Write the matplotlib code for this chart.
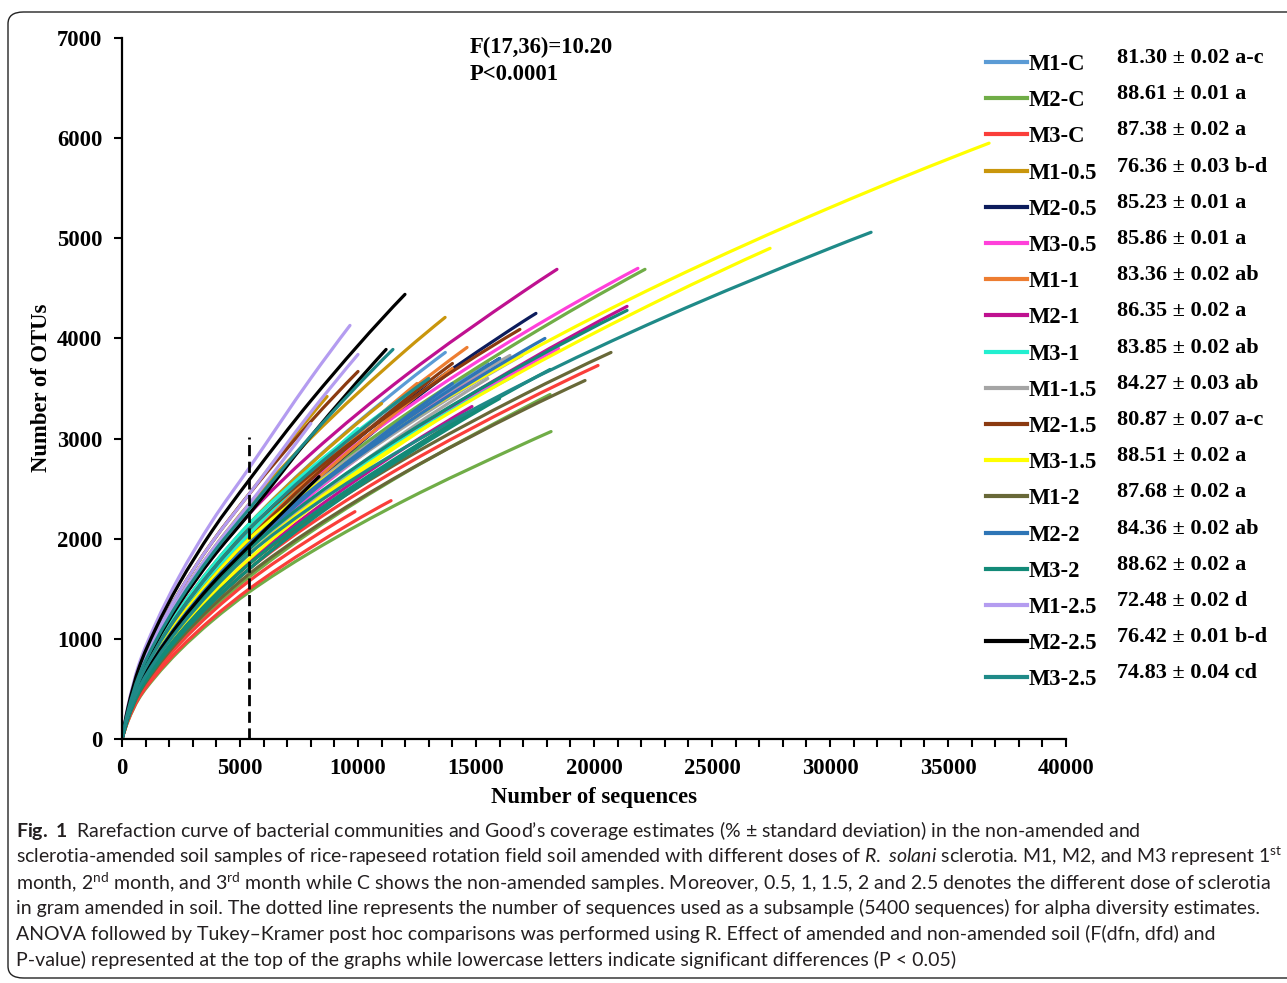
import matplotlib
matplotlib.use('Agg')
import matplotlib.pyplot as plt
from matplotlib.lines import Line2D
from matplotlib.patches import FancyBboxPatch, PathPatch
from matplotlib.path import Path
from matplotlib.ticker import MultipleLocator

W, H = 1287, 983

# ---------------- data ----------------
groups = ['M1-C', 'M2-C', 'M3-C', 'M1-0.5', 'M2-0.5', 'M3-0.5', 'M1-1', 'M2-1', 'M3-1',
          'M1-1.5', 'M2-1.5', 'M3-1.5', 'M1-2', 'M2-2', 'M3-2', 'M1-2.5', 'M2-2.5', 'M3-2.5']
coverage = ['81.30 ± 0.02 a-c', '88.61 ± 0.01 a', '87.38 ± 0.02 a', '76.36 ± 0.03 b-d',
            '85.23 ± 0.01 a', '85.86 ± 0.01 a', '83.36 ± 0.02 ab', '86.35 ± 0.02 a',
            '83.85 ± 0.02 ab', '84.27 ± 0.03 ab', '80.87 ± 0.07 a-c', '88.51 ± 0.02 a',
            '87.68 ± 0.02 a', '84.36 ± 0.02 ab', '88.62 ± 0.02 a', '72.48 ± 0.02 d',
            '76.42 ± 0.01 b-d', '74.83 ± 0.04 cd']
colors = ['#5B9BD5', '#70AD47', '#FA3E3A', '#C9960C', '#0C1C5C', '#FF40DA', '#ED7D31',
          '#BF1190', '#22EFD0', '#A5A5A5', '#8B3A10', '#FFFF00', '#686838', '#2E75B6',
          '#138A78', '#B49CF0', '#000000', '#1F8A88']

f_text = 'F(17,36)=10.20'
p_text = 'P<0.0001'
subsample_depth = 5400
subsample_line_top = 3020

# sequences at which the low part of each curve is read
LOW_X = [0, 250, 700, 1400, 2400, 3800, 5400]

curve_group = [0, 0, 0, 1, 1, 1, 2, 2, 2, 3, 3, 3, 4, 4, 4, 5, 5, 5, 6, 6, 6, 7, 7, 7, 8, 8, 8,
               9, 9, 9, 10, 10, 10, 11, 11, 11, 12, 12, 12, 13, 13, 13, 14, 14, 14, 15, 15, 15,
               16, 16, 16, 17, 17, 17]

curve_low_y = [
    [0, 258, 581, 903, 1279, 1720, 2150],
    [0, 240, 540, 840, 1190, 1600, 2000],
    [0, 234, 527, 819, 1160, 1560, 1950],
    [0, 240, 540, 840, 1190, 1600, 2000],
    [0, 176, 397, 617, 875, 1176, 1470],
    [0, 194, 437, 680, 964, 1296, 1620],
    [0, 190, 427, 664, 940, 1264, 1580],
    [0, 180, 405, 630, 893, 1200, 1500],
    [0, 204, 459, 714, 1012, 1360, 1700],
    [0, 282, 635, 987, 1398, 1880, 2350],
    [0, 294, 662, 1029, 1458, 1960, 2450],
    [0, 258, 581, 903, 1279, 1720, 2150],
    [0, 246, 554, 861, 1220, 1640, 2050],
    [0, 234, 527, 819, 1160, 1560, 1950],
    [0, 228, 513, 798, 1131, 1520, 1900],
    [0, 246, 554, 861, 1220, 1640, 2050],
    [0, 228, 513, 798, 1131, 1520, 1900],
    [0, 222, 500, 777, 1101, 1480, 1850],
    [0, 246, 554, 861, 1220, 1640, 2050],
    [0, 240, 540, 840, 1190, 1600, 2000],
    [0, 234, 527, 819, 1160, 1560, 1950],
    [0, 270, 608, 945, 1339, 1800, 2250],
    [0, 222, 500, 777, 1101, 1480, 1850],
    [0, 212, 478, 743, 1053, 1416, 1770],
    [0, 258, 581, 903, 1279, 1720, 2150],
    [0, 228, 513, 798, 1131, 1520, 1900],
    [0, 246, 554, 861, 1220, 1640, 2050],
    [0, 234, 527, 819, 1160, 1560, 1950],
    [0, 240, 540, 840, 1190, 1600, 2000],
    [0, 222, 500, 777, 1101, 1480, 1850],
    [0, 252, 567, 882, 1250, 1680, 2100],
    [0, 294, 662, 1029, 1458, 1960, 2450],
    [0, 240, 540, 840, 1190, 1600, 2000],
    [0, 240, 540, 840, 1190, 1600, 2000],
    [0, 222, 500, 777, 1101, 1480, 1850],
    [0, 216, 486, 756, 1071, 1440, 1800],
    [0, 210, 473, 735, 1041, 1400, 1750],
    [0, 198, 446, 693, 982, 1320, 1650],
    [0, 204, 459, 714, 1012, 1360, 1700],
    [0, 234, 527, 819, 1160, 1560, 1950],
    [0, 234, 527, 819, 1160, 1560, 1950],
    [0, 228, 513, 798, 1131, 1520, 1900],
    [0, 228, 513, 798, 1131, 1520, 1900],
    [0, 210, 473, 735, 1041, 1400, 1750],
    [0, 204, 459, 714, 1012, 1360, 1700],
    [0, 325, 732, 1138, 1612, 2168, 2710],
    [0, 294, 662, 1029, 1458, 1960, 2450],
    [0, 282, 635, 987, 1398, 1880, 2350],
    [0, 311, 699, 1088, 1541, 2072, 2590],
    [0, 270, 608, 945, 1339, 1800, 2250],
    [0, 232, 521, 811, 1148, 1544, 1930],
    [0, 222, 500, 777, 1101, 1480, 1850],
    [0, 276, 621, 966, 1369, 1840, 2300],
    [0, 252, 567, 882, 1250, 1680, 2100],
]

curve_high_x = [
    [8000, 12000, 13700], [8000, 12000, 15500], [8000, 12000],
    [8000, 12000, 17000, 22160], [8000, 12000, 17000, 18180], [8000, 12000, 17000, 18140],
    [8000, 9870], [8000, 11400], [8000, 12000, 17000, 20170],
    [8000, 12000, 13690], [7000, 8690], [8000, 11000],
    [8000, 12000, 17000, 17540], [8000, 12000, 14400], [8000, 12000, 16000],
    [8000, 12000, 17000, 21860], [8000, 12000, 15500], [8000, 12000, 17000, 18500],
    [8000, 12000, 14620], [8000, 12000, 12500], [8000, 12000, 14000],
    [8000, 12000, 17000, 18430], [8000, 12000, 17000, 21400], [8000, 12000, 14830],
    [8000, 12000, 12590], [8000, 12000, 16570], [8000, 10000],
    [8000, 12000, 16950], [8000, 12000, 16440], [8000, 12000, 15500],
    [8000, 12000, 16860], [8000, 10000], [8000, 12000, 14000],
    [8000, 12000, 17000, 23000, 30000, 36740], [8000, 12000, 17000, 23000, 27460], [8000, 12000, 13260],
    [8000, 12000, 17000, 20720], [8000, 12000, 17000, 19620], [8000, 12000, 15000],
    [8000, 12000, 17000, 17920], [8000, 12000, 16000], [8000, 12000, 14000],
    [8000, 12000, 17000, 21400], [8000, 12000, 17000, 18140], [8000, 12000, 16000],
    [8000, 9660], [8000, 10000], [8000],
    [8000, 11990], [8000, 11190], [8350],
    [8000, 12000, 17000, 23000, 30000, 31740], [8000, 11480], [8000, 12000, 13000],
]

curve_high_y = [
    [2753, 3552, 3860], [2529, 3221, 3750], [2564, 3400],
    [2535, 3237, 3993, 4690], [1865, 2385, 2945, 3070], [2068, 2660, 3302, 3440],
    [2001, 2270], [1912, 2380], [2149, 2737, 3368, 3730],
    [3006, 3877, 4210], [2938, 3420], [2747, 3350],
    [2615, 3360, 4170, 4250], [2534, 3321, 3750], [2442, 3163, 3800],
    [2589, 3294, 4051, 4700], [2436, 3148, 3700], [2348, 3002, 3707, 3900],
    [2644, 3440, 3910], [2617, 3453, 3550], [2539, 3335, 3700],
    [2846, 3627, 4467, 4690], [2357, 3026, 3749, 4320], [2261, 2911, 3320],
    [2704, 3425, 3520], [2382, 3007, 3620], [2668, 3100],
    [2459, 3123, 3830], [2516, 3188, 3830], [2371, 3065, 3600],
    [2643, 3352, 4090], [3170, 3670], [2592, 3387, 3750],
    [2501, 3150, 3840, 4562, 5306, 5950], [2341, 2985, 3677, 4407, 4900], [2306, 2977, 3170],
    [2205, 2799, 3436, 3860], [2089, 2665, 3285, 3580], [2194, 2854, 3300],
    [2468, 3146, 3876, 4000], [2482, 3184, 3800], [2459, 3208, 3550],
    [2396, 3043, 3737, 4280], [2229, 2861, 3545, 3690], [2185, 2830, 3400],
    [3602, 4130], [3263, 3840], [3150],
    [3377, 4440], [3023, 3890], [2620],
    [2313, 2912, 3549, 4213, 4900, 5060], [3025, 3890], [2673, 3428, 3600],
]


def smooth_path(xs, ys):
    """Smoothed-line rendering (like a spreadsheet 'smoothed line'):
    cubic Bezier segments through the given points, monotone tangents."""
    n = len(xs)
    h = [xs[i + 1] - xs[i] for i in range(n - 1)]
    d = [(ys[i + 1] - ys[i]) / h[i] for i in range(n - 1)]
    m = [0.0] * n
    if n == 2:
        m = [d[0], d[0]]
    else:
        for k in range(1, n - 1):
            if d[k - 1] * d[k] <= 0:
                m[k] = 0.0
            else:
                w1 = 2 * h[k] + h[k - 1]
                w2 = h[k] + 2 * h[k - 1]
                m[k] = (w1 + w2) / (w1 / d[k - 1] + w2 / d[k])
        m0 = ((2 * h[0] + h[1]) * d[0] - h[0] * d[1]) / (h[0] + h[1])
        if m0 * d[0] <= 0:
            m0 = 0.0
        elif abs(m0) > 3 * abs(d[0]):
            m0 = 3 * d[0]
        m[0] = m0
        mn = ((2 * h[-1] + h[-2]) * d[-1] - h[-1] * d[-2]) / (h[-1] + h[-2])
        if mn * d[-1] <= 0:
            mn = 0.0
        elif abs(mn) > 3 * abs(d[-1]):
            mn = 3 * d[-1]
        m[-1] = mn
    verts = [(xs[0], ys[0])]
    codes = [Path.MOVETO]
    for i in range(n - 1):
        t = h[i] / 3.0
        verts += [(xs[i] + t, ys[i] + m[i] * t),
                  (xs[i + 1] - t, ys[i + 1] - m[i + 1] * t),
                  (xs[i + 1], ys[i + 1])]
        codes += [Path.CURVE4] * 3
    return Path(verts, codes)


# ---------------- figure ----------------
SERIF = 'Liberation Serif'
plt.rcParams['mathtext.fontset'] = 'custom'
plt.rcParams['mathtext.rm'] = 'Lato'
plt.rcParams['mathtext.it'] = 'Lato:italic'
plt.rcParams['mathtext.bf'] = 'Lato:bold'

fig = plt.figure(figsize=(W / 100, H / 100), dpi=100)
fig.patch.set_facecolor('white')


def fx(px):
    return px / W


def fy(py):
    return 1 - py / H


# outer rounded frame
frame = FancyBboxPatch((fx(8), fy(978)), fx(1320 - 8), fy(12) - fy(978),
                       boxstyle='round,pad=0,rounding_size=0.012',
                       transform=fig.transFigure, fill=False, edgecolor='#222222',
                       linewidth=1.0, zorder=0)
fig.add_artist(frame)

ax = fig.add_axes([fx(122), fy(739), fx(1066) - fx(122), fy(38) - fy(739)])
ax.set_xlim(0, 40000)
ax.set_ylim(0, 7000)

for g, ly, hx, hy in zip(curve_group, curve_low_y, curve_high_x, curve_high_y):
    patch = PathPatch(smooth_path(LOW_X + hx, ly + hy), facecolor='none',
                      edgecolor=colors[g], linewidth=2.3, capstyle='round',
                      joinstyle='round')
    ax.add_patch(patch)

ax.plot([subsample_depth, subsample_depth], [0, subsample_line_top], color='black',
        linewidth=2.0, linestyle=(0, (4, 2)), zorder=5)

for s in ['top', 'right']:
    ax.spines[s].set_visible(False)
for s in ['left', 'bottom']:
    ax.spines[s].set_linewidth(1.6)

ax.xaxis.set_major_locator(MultipleLocator(5000))
ax.xaxis.set_minor_locator(MultipleLocator(1000))
ax.yaxis.set_major_locator(MultipleLocator(1000))
ax.tick_params(axis='both', which='both', direction='out', length=6, width=1.5)
ax.tick_params(axis='x', pad=8)
ax.tick_params(axis='y', pad=8)
for lab in ax.get_xticklabels() + ax.get_yticklabels():
    lab.set_fontfamily(SERIF)
    lab.set_fontweight('bold')
    lab.set_fontsize(16.3)

fig.text(fx(594), fy(797), 'Number of sequences', family=SERIF, weight='bold',
         fontsize=16.3, ha='center', va='center')
fig.text(fx(42), fy(388), 'Number of OTUs', family=SERIF, weight='bold',
         fontsize=16.3, ha='center', va='center', rotation=90)

fig.text(fx(470), fy(47), f_text, family=SERIF, weight='bold', fontsize=16.3,
         ha='left', va='center')
fig.text(fx(470), fy(75), p_text, family=SERIF, weight='bold', fontsize=16.3,
         ha='left', va='center')

# legend with coverage
for i, (name, cov, col) in enumerate(zip(groups, coverage, colors)):
    yline = 62 + i * 36.2
    fig.add_artist(Line2D([fx(986), fx(1027)], [fy(yline), fy(yline)], color=col,
                          linewidth=3.0, transform=fig.transFigure))
    fig.text(fx(1029), fy(yline + 2.5), name, family=SERIF, weight='bold', fontsize=16.3,
             ha='left', va='center')
    fig.text(fx(1117), fy(yline - 4), cov, family=SERIF, weight='bold', fontsize=16.0,
             ha='left', va='center')

# caption
cap_lines = [
    r'$\bf{Fig.\ 1}$  Rarefaction curve of bacterial communities and Good’s coverage estimates (% ± standard deviation) in the non-amended and',
    r'sclerotia-amended soil samples of rice-rapeseed rotation field soil amended with different doses of $\it{R.\ solani}$ sclerotia. M1, M2, and M3 represent 1$^{\rm st}$',
    r'month, 2$^{\rm nd}$ month, and 3$^{\rm rd}$ month while C shows the non-amended samples. Moreover, 0.5, 1, 1.5, 2 and 2.5 denotes the different dose of sclerotia',
    r'in gram amended in soil. The dotted line represents the number of sequences used as a subsample (5400 sequences) for alpha diversity estimates.',
    r'ANOVA followed by Tukey–Kramer post hoc comparisons was performed using R. Effect of amended and non-amended soil (F(dfn, dfd) and',
    r'P-value) represented at the top of the graphs while lowercase letters indicate significant differences (P < 0.05)',
]
for k, line in enumerate(cap_lines):
    fig.text(fx(16), fy(831 + k * 25.7), line, family='Lato', fontsize=14.0,
             ha='left', va='center', color='#231f20')

fig.savefig('out.png', dpi=100, facecolor='white')
